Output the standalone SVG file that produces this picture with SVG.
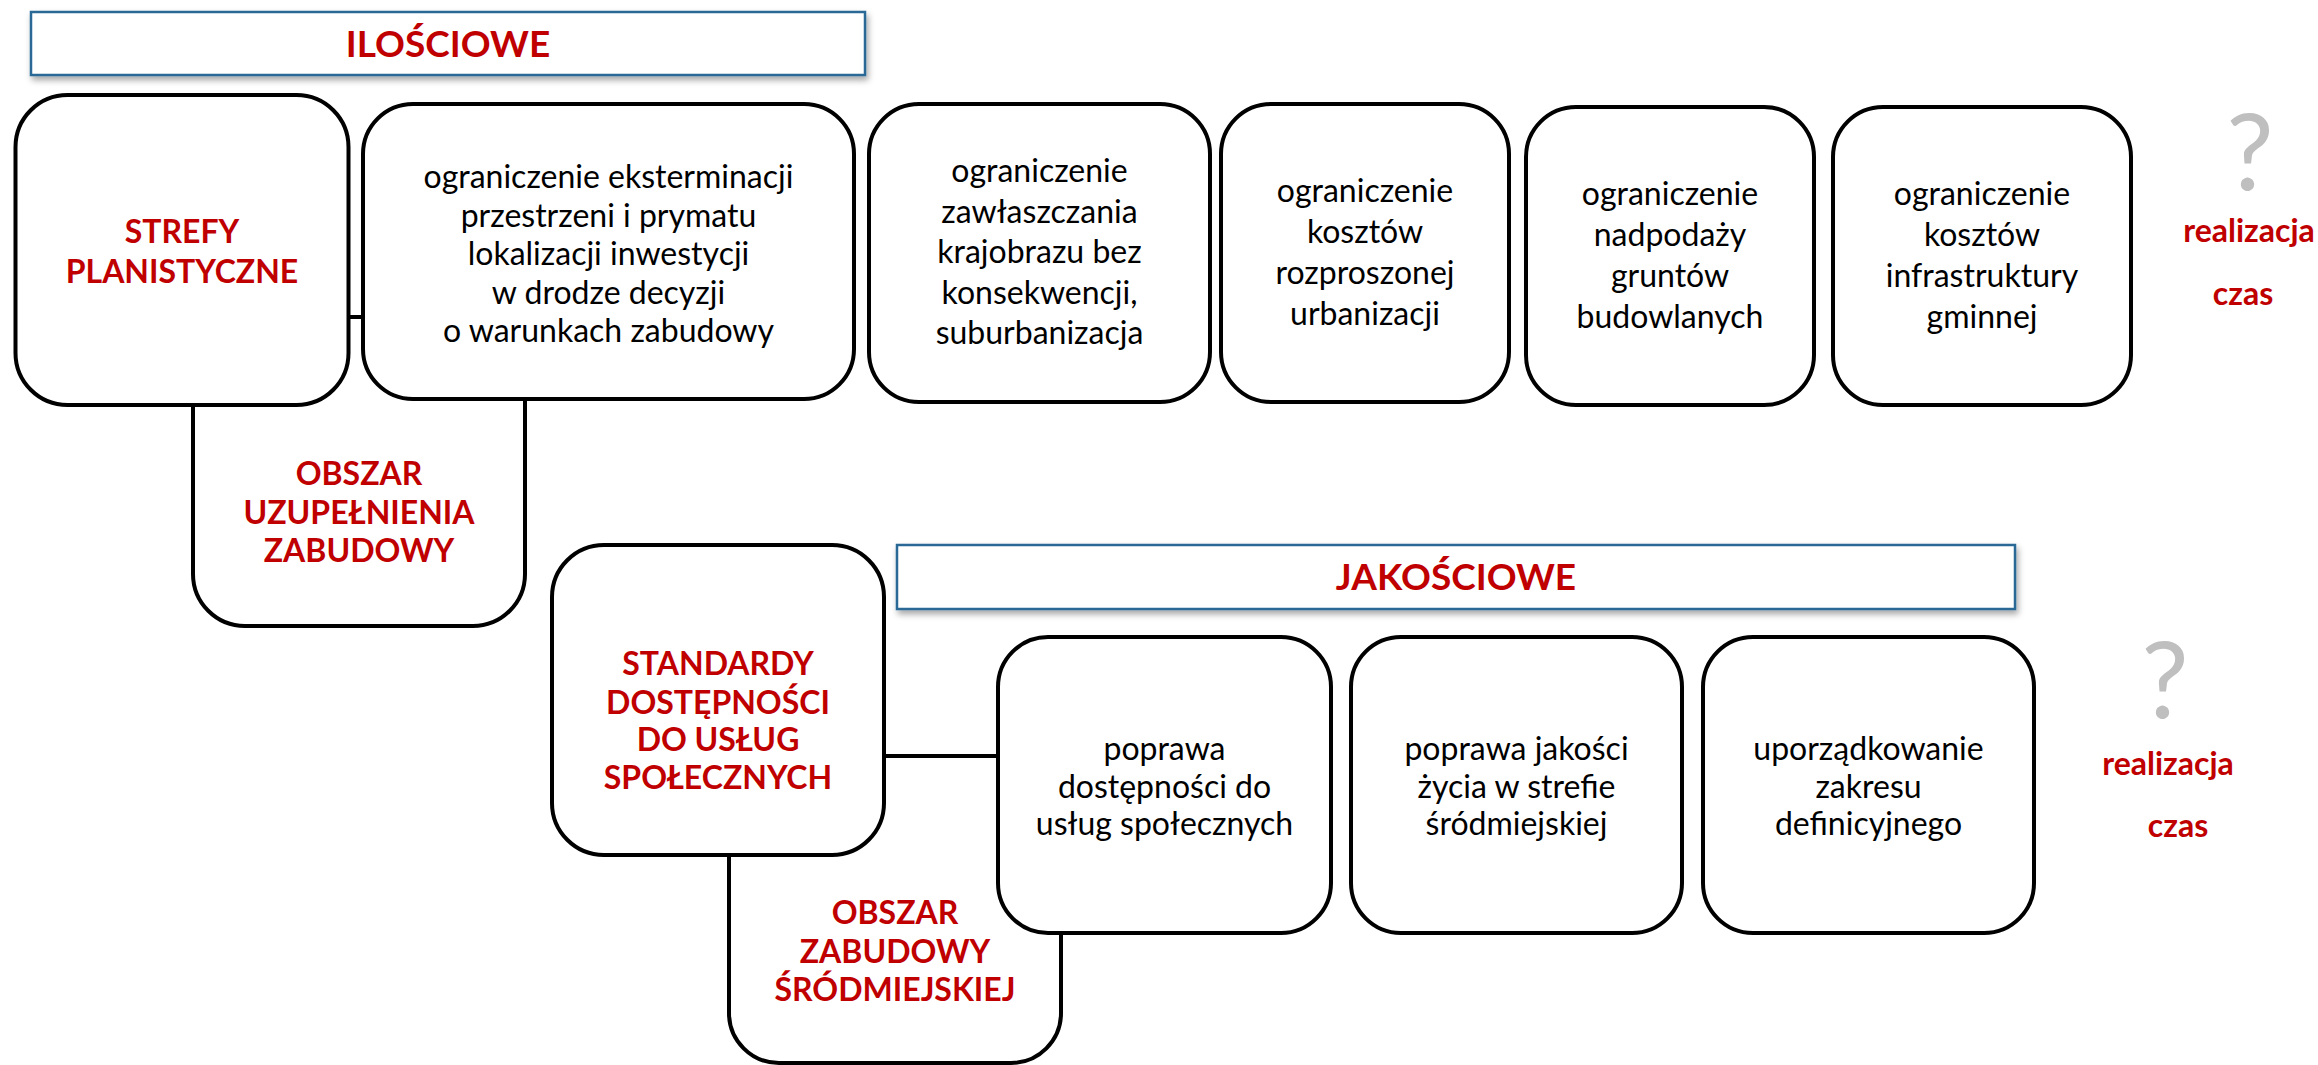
<svg xmlns="http://www.w3.org/2000/svg" width="2318" height="1065" viewBox="0 0 2318 1065">
  <defs>
    <filter id="shadow" x="-5%" y="-30%" width="110%" height="170%">
      <feDropShadow dx="2" dy="4" stdDeviation="3" flood-color="#000" flood-opacity="0.35"/>
    </filter>
  </defs>
  <style>
    .box { fill: #fff; stroke: #000; stroke-width: 4; }
    .head { fill: #fff; stroke: #2a6896; stroke-width: 2.5; filter: url(#shadow); }
    .conn { stroke: #000; stroke-width: 4; fill: none; }
    text { font-family: Lato, "Open Sans", "Liberation Sans", sans-serif; text-anchor: middle; }
    .body { font-size: 32px; fill: #000; }
    .label { font-size: 32px; font-weight: bold; fill: #c00000; }
    .title { font-size: 37px; font-weight: bold; fill: #c00000; }
    .q { font-size: 106px; fill: #bfbfbf; }
    .side { font-size: 32px; font-weight: bold; fill: #c00000; }
  </style>

  <!-- section headers -->
  <g id="header-ilosciowe">
    <rect class="head" x="31" y="12" width="834" height="63"/>
    <text class="title" x="448" y="57">ILOŚCIOWE</text>
  </g>
  <g id="header-jakosciowe">
    <rect class="head" x="897" y="545" width="1118" height="64"/>
    <text class="title" x="1456" y="590">JAKOŚCIOWE</text>
  </g>

  <!-- area boxes that sit behind the boxes above them -->
  <g id="obszar-uzupelnienia">
    <rect class="box" x="193" y="317" width="332" height="309" rx="52"/>
    <text class="label" x="359" y="485">OBSZAR</text>
    <text class="label" x="359" y="523.5">UZUPEŁNIENIA</text>
    <text class="label" x="359" y="562">ZABUDOWY</text>
  </g>
  <g id="obszar-srodmiejski">
    <rect class="box" x="729" y="756" width="332" height="307" rx="50"/>
    <text class="label" x="895" y="924">OBSZAR</text>
    <text class="label" x="895" y="963">ZABUDOWY</text>
    <text class="label" x="895" y="1001">ŚRÓDMIEJSKIEJ</text>
  </g>

  <!-- connectors -->
  <g id="connectors">
    <line class="conn" x1="349" y1="317" x2="363" y2="317"/>
    <line class="conn" x1="884" y1="756" x2="998" y2="756"/>
  </g>

  <!-- quantitative row -->
  <g id="strefy">
    <rect class="box" x="15.5" y="95" width="333" height="310" rx="52"/>
    <text class="label" x="182" y="243">STREFY</text>
    <text class="label" x="182" y="283">PLANISTYCZNE</text>
  </g>
  <g id="q-eksterminacja">
    <rect class="box" x="363" y="104" width="491" height="295" rx="50"/>
    <text class="body" x="608.5" y="188">ograniczenie eksterminacji</text>
    <text class="body" x="608.5" y="226.5">przestrzeni i prymatu</text>
    <text class="body" x="608.5" y="265">lokalizacji inwestycji</text>
    <text class="body" x="608.5" y="303.5">w drodze decyzji</text>
    <text class="body" x="608.5" y="342">o warunkach zabudowy</text>
  </g>
  <g id="q-zawlaszczanie">
    <rect class="box" x="869" y="104" width="341" height="298" rx="50"/>
    <text class="body" x="1039.5" y="182">ograniczenie</text>
    <text class="body" x="1039.5" y="222.5">zawłaszczania</text>
    <text class="body" x="1039.5" y="263">krajobrazu bez</text>
    <text class="body" x="1039.5" y="303.5">konsekwencji,</text>
    <text class="body" x="1039.5" y="344">suburbanizacja</text>
  </g>
  <g id="q-koszty-urbanizacji">
    <rect class="box" x="1221" y="104" width="288" height="298" rx="50"/>
    <text class="body" x="1365" y="202">ograniczenie</text>
    <text class="body" x="1365" y="243">kosztów</text>
    <text class="body" x="1365" y="284">rozproszonej</text>
    <text class="body" x="1365" y="325">urbanizacji</text>
  </g>
  <g id="q-nadpodaz">
    <rect class="box" x="1526" y="107" width="288" height="298" rx="50"/>
    <text class="body" x="1670" y="205">ograniczenie</text>
    <text class="body" x="1670" y="246">nadpodaży</text>
    <text class="body" x="1670" y="287">gruntów</text>
    <text class="body" x="1670" y="328">budowlanych</text>
  </g>
  <g id="q-infrastruktura">
    <rect class="box" x="1833" y="107" width="298" height="298" rx="50"/>
    <text class="body" x="1982" y="205">ograniczenie</text>
    <text class="body" x="1982" y="246">kosztów</text>
    <text class="body" x="1982" y="287">infrastruktury</text>
    <text class="body" x="1982" y="328">gminnej</text>
  </g>
  <g id="q-status">
    <text class="q" x="2250" y="190">?</text>
    <text class="side" x="2249" y="242">realizacja</text>
    <text class="side" x="2243" y="305">czas</text>
  </g>

  <!-- qualitative row -->
  <g id="standardy">
    <rect class="box" x="552" y="545" width="332" height="310" rx="52"/>
    <text class="label" x="718" y="675">STANDARDY</text>
    <text class="label" x="718" y="714">DOSTĘPNOŚCI</text>
    <text class="label" x="718" y="751">DO USŁUG</text>
    <text class="label" x="718" y="789">SPOŁECZNYCH</text>
  </g>
  <g id="j-dostepnosc">
    <rect class="box" x="998" y="637" width="333" height="296" rx="50"/>
    <text class="body" x="1164.5" y="760">poprawa</text>
    <text class="body" x="1164.5" y="797.5">dostępności do</text>
    <text class="body" x="1164.5" y="835">usług społecznych</text>
  </g>
  <g id="j-jakosc-zycia">
    <rect class="box" x="1351" y="637" width="331" height="296" rx="50"/>
    <text class="body" x="1516.5" y="760">poprawa jakości</text>
    <text class="body" x="1516.5" y="797.5">życia w strefie</text>
    <text class="body" x="1516.5" y="835">śródmiejskiej</text>
  </g>
  <g id="j-definicje">
    <rect class="box" x="1703" y="637" width="331" height="296" rx="50"/>
    <text class="body" x="1868.5" y="760">uporządkowanie</text>
    <text class="body" x="1868.5" y="797.5">zakresu</text>
    <text class="body" x="1868.5" y="835">definicyjnego</text>
  </g>
  <g id="j-status">
    <text class="q" x="2165" y="718">?</text>
    <text class="side" x="2168" y="775">realizacja</text>
    <text class="side" x="2178" y="837">czas</text>
  </g>
</svg>
